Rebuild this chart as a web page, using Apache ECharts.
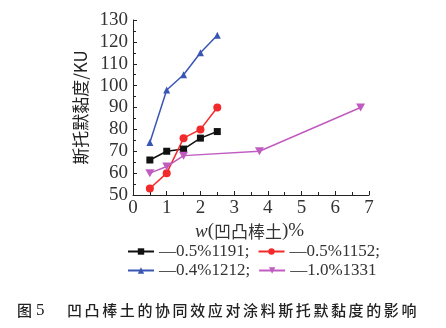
<!DOCTYPE html>
<html><head><meta charset="utf-8">
<script src="https://cdn.jsdelivr.net/npm/echarts@6/dist/echarts.min.js"></script>
<style>html,body{margin:0;padding:0;background:#fff}#c{width:446px;height:328px}</style>
</head><body><div id="c"></div>
<script>
const xTicks = [0,1,2,3,4,5,6,7];
const yTicks = [50,60,70,80,90,100,110,120,130];
const seriesNames = ['0.5%1191;', '0.5%1152;', '0.4%1212;', '1.0%1331'];
const s1191 = [[0.5,66],[1,70],[1.5,71],[2,76],[2.5,79]];
const s1152 = [[0.5,53],[1,60],[1.5,76],[2,80],[2.5,90]];
const s1212 = [[0.5,74],[1,98],[1.5,105],[2,115],[2.5,123]];
const s1331 = [[0.5,60],[1,63],[1.5,68],[3.75,70],[6.75,90]];
const captionLabel = ['图', '5'];
const captionText = '凹凸棒土的协同效应对涂料斯托默黏度的影响';
const colors = ['#111111','#f22a2a','#3a56b4','#c05cc0'];
const symbols = ['rect','circle','triangle','path://M0,0 L10,0 L5,9 Z'];
const allData = [s1191, s1152, s1212, s1331];

const serif = 'Liberation Serif';
const cjk = 'Noto Sans CJK SC';
const capFont = '500 15px "'+cjk+'"';
const captionEls = [
  {type:'text', left:17, top:303, style:{text:captionLabel[0], font:capFont, fill:'#222'}},
  {type:'text', left:36, top:302, style:{text:captionLabel[1], font:'17px "'+serif+'"', fill:'#222'}}
];
Array.from(captionText).forEach((ch,i)=>{
  captionEls.push({type:'text', left:67 + i*17.6, top:303, style:{text:ch, font:capFont, fill:'#222'}});
});

const chart = echarts.init(document.getElementById('c'));
chart.setOption({
  animation:false,
  grid:{left:133, top:20, width:236, height:175},
  xAxis:{type:'value', min:xTicks[0], max:xTicks[xTicks.length-1], interval:1,
    axisLine:{lineStyle:{color:'#222', width:1}},
    axisTick:{inside:true, length:4, lineStyle:{color:'#222'}},
    minorTick:{show:true, splitNumber:2, length:3, lineStyle:{color:'#222'}},
    splitLine:{show:false},
    axisLabel:{color:'#333', fontFamily:serif, fontSize:19, margin:4}},
  yAxis:{type:'value', min:yTicks[0], max:yTicks[yTicks.length-1], interval:10,
    axisLine:{show:true, lineStyle:{color:'#222', width:1}},
    axisTick:{show:true, inside:true, length:4, lineStyle:{color:'#222'}},
    minorTick:{show:true, splitNumber:2, length:3, lineStyle:{color:'#222'}},
    splitLine:{show:false},
    axisLabel:{color:'#333', fontFamily:serif, fontSize:19, margin:5},
    name:'斯托默黏度/KU', nameLocation:'middle', nameGap:43, nameRotate:90,
    nameTextStyle:{color:'#222', fontFamily:cjk, fontSize:17}},
  legend:[
    {data:[seriesNames[0], seriesNames[1]], left:122, top:238, itemWidth:26, itemHeight:8, itemGap:8,
     formatter:n=>'—'+n, textStyle:{color:'#333', fontFamily:serif, fontSize:17}},
    {data:[seriesNames[2], seriesNames[3]], left:122, top:257, itemWidth:26, itemHeight:8, itemGap:8,
     formatter:n=>'—'+n, textStyle:{color:'#333', fontFamily:serif, fontSize:17}}
  ],
  graphic:[
    {type:'text', left:195, top:222, style:{
      rich:{i:{fontStyle:'italic', fontFamily:serif, fontSize:19, fill:'#333'},
            n:{fontFamily:serif, fontSize:19, fill:'#333'},
            c:{fontFamily:cjk, fontSize:17, fill:'#333'}},
      text:'{i|w}{n|(}{c|凹凸棒土}{n|)%}'}}
  ].concat(captionEls),
  series: allData.map((d,i)=>({
    name:seriesNames[i], type:'line', data:d,
    symbol:symbols[i], symbolSize: i===1?8:(i===3?[9,8]:7),
    lineStyle:{color:colors[i], width:1.5},
    itemStyle:{color:colors[i]}
  }))
});
</script></body></html>
